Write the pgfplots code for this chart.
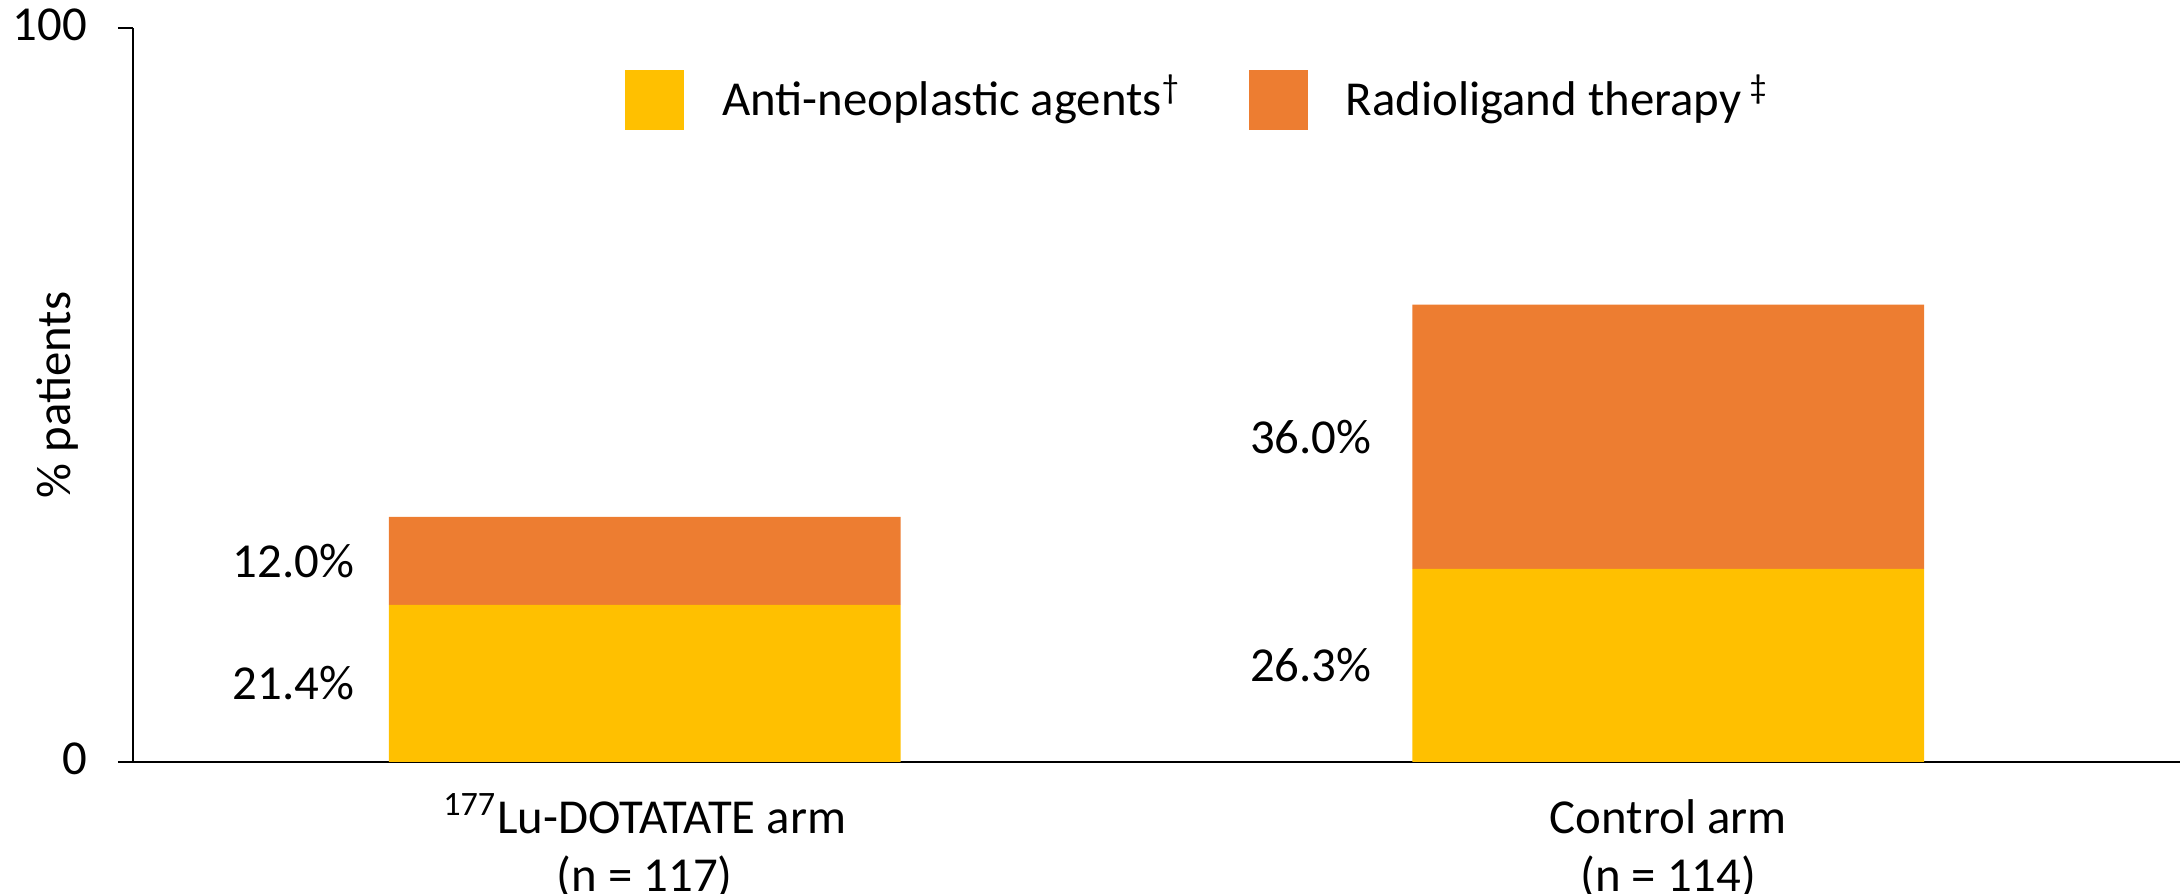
\documentclass[border=0pt]{standalone}
\usepackage{pgfplots}
\pgfplotsset{compat=1.18}
\usepackage{fontspec}
\setmainfont{Carlito}
\usetikzlibrary{calc}
\definecolor{cyellow}{HTML}{FFC000}
\definecolor{corange}{HTML}{ED7D31}
\newcommand\lblfont{\fontsize{12.2}{14.5}\selectfont}
\begin{document}
\begin{tikzpicture}
\begin{axis}[
  scale only axis,
  width=511.75pt, height=183.5pt,
  ybar stacked, bar width=0.5,
  xmin=-0.5, xmax=1.5, ymin=0, ymax=100,
  axis x line*=bottom, axis y line*=left,
  axis line style={line width=0.7pt, black},
  xtick={0,1},
  xticklabels={{\textsuperscript{177}Lu-DOTATATE arm\\(n = 117)},{\vphantom{\textsuperscript{177}L}Control arm\\(n = 114)}},
  ytick={0,100},
  tick align=outside, major tick length=3.75pt,
  tick style={line width=0.7pt, black},
  xtick style={draw=none},
  /pgf/number format/assume math mode=true,
  tick label style={font=\lblfont},
  yticklabel style={anchor=east, inner sep=0pt, xshift=-7.5pt, yshift=0.75pt},
  xticklabel style={align=center, anchor=north, inner sep=0pt, yshift=-4.0pt},
  ylabel={\% patients},
  ylabel style={at={($(rel axis cs:0,0.5)+(-15.75pt,0)$)}, anchor=base, font=\lblfont},
  legend style={draw=none, fill=none, inner sep=0pt, outer sep=0pt,
    at={(0.2404,0.9019)}, anchor=west, legend columns=2,
    nodes={inner sep=0pt, font=\lblfont},
    /tikz/every odd column/.append style={column sep=9.5pt},
    /tikz/every even column/.append style={column sep=17pt}},
  sqleg/.style={legend image code/.code={\fill[##1] (0pt,-7.8pt) rectangle (14.75pt,7pt);}},
]
\addplot[fill=cyellow, draw=none, sqleg] coordinates {(0,21.4) (1,26.3)};
\addplot[fill=corange, draw=none, sqleg] coordinates {(0,12.0) (1,36.0)};
\legend{Anti-neoplastic agents\textsuperscript{†}, Radioligand therapy\,\textsuperscript{‡}}
\node[anchor=east, inner sep=0pt, font=\lblfont, xshift=-8.5pt] at (axis cs:-0.25,10.7) {21.4\%};
\node[anchor=east, inner sep=0pt, font=\lblfont, xshift=-8.5pt] at (axis cs:-0.25,27.4) {12.0\%};
\node[anchor=east, inner sep=0pt, font=\lblfont, xshift=-10pt] at (axis cs:0.75,13.15) {26.3\%};
\node[anchor=east, inner sep=0pt, font=\lblfont, xshift=-10pt] at (axis cs:0.75,44.3) {36.0\%};
\end{axis}
\pgfresetboundingbox
\path[use as bounding box] ($(current axis.south west)+(-33.25pt,-33pt)$) rectangle ($(current axis.north east)+(0.75pt,7pt)$);
\end{tikzpicture}
\end{document}
